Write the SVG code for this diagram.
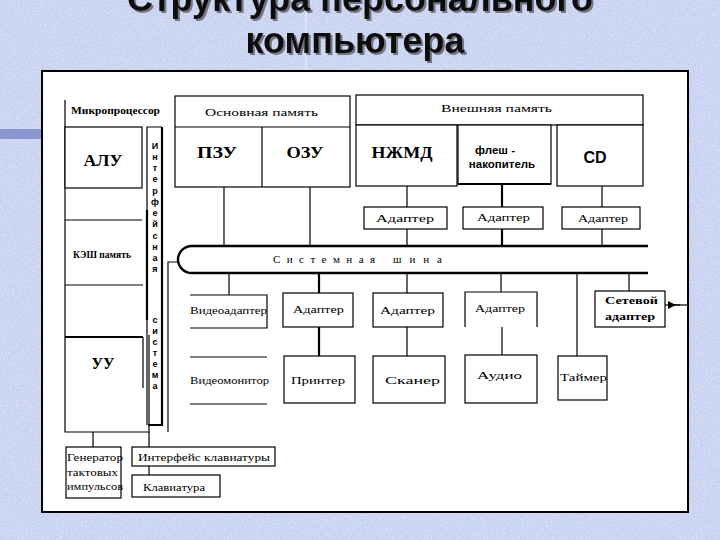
<svg xmlns="http://www.w3.org/2000/svg" width="720" height="540" viewBox="0 0 720 540">
<defs>
<filter id="tex" x="0" y="0" width="100%" height="100%">
<feTurbulence type="fractalNoise" baseFrequency="0.55" numOctaves="2" seed="7"/>
<feColorMatrix type="matrix" values="0 0 0 0 0.93  0 0 0 0 0.78  0 0 0 0 0.95  1.4 0 0 0 -0.55"/>
</filter>
<filter id="shadow" x="-5%" y="-50%" width="110%" height="200%">
<feDropShadow dx="2" dy="2" stdDeviation="0.6" flood-color="#6a6a7a" flood-opacity="0.9"/>
</filter>
<marker id="arr" viewBox="0 0 8 8" refX="4" refY="4" markerWidth="8" markerHeight="8" orient="auto" markerUnits="userSpaceOnUse">
<path d="M0,4 L8,0 L8,8 Z" fill="#000"/>
</marker>
<style>
.ln{fill:none;stroke:#000;stroke-width:1.2}
.bx{fill:#fff;stroke:#000;stroke-width:1.2}
.tk{fill:none;stroke:#000;stroke-width:2.2}
.lb{font-family:"Liberation Serif",serif;font-size:11px;fill:#000}
.bd{font-family:"Liberation Serif",serif;font-size:17px;font-weight:bold;fill:#000;text-anchor:middle}
.bs{font-family:"Liberation Sans",sans-serif;font-weight:bold;fill:#000;text-anchor:middle}
.vl{font-family:"Liberation Sans",sans-serif;font-size:9px;font-weight:bold;fill:#000;text-anchor:middle}
.tt{font-family:"Liberation Sans","DejaVu Sans",sans-serif;font-size:36px;font-weight:bold;fill:#111;text-anchor:middle}
</style>
</defs>

<!-- background -->
<rect x="0" y="0" width="720" height="540" fill="#c4d3f0"/>
<rect x="0" y="0" width="720" height="540" filter="url(#tex)"/>
<rect x="0" y="129" width="42" height="10" fill="#8b98cf"/>
<line x1="306" y1="0" x2="306" y2="71" stroke="#eef2ff" stroke-width="1"/>

<!-- title -->
<g id="title" filter="url(#shadow)">
<text class="tt" x="360" y="11">Структура персонального</text>
<text class="tt" x="355" y="53">компьютера</text>
</g>

<!-- frame -->
<rect x="42" y="71" width="646" height="441" fill="#fff" stroke="#000" stroke-width="2"/>

<g id="connectors">
<path class="ln" d="M224,187 V246 M310,187 V246"/>
<path class="ln" d="M407,186 V207 M407,229 V246 M602,186 V207 M602,229 V246"/>
<path class="tk" d="M502,184 V207 M502,229 V246"/>
<path class="ln" d="M229,273 V295"/>
<path class="tk" d="M319,273 V293 M319,327 V356"/>
<path class="ln" d="M407,273 V293 M407,327 V356"/>
<path class="ln" d="M501,273 V292 M502,327 V355"/>
<path class="ln" d="M577,273 V356"/>
<path class="ln" d="M629,273 V291"/>
<path class="ln" d="M168,432 V262 H178"/>
<path class="ln" d="M93,432 V447 M149,432 V447 M149,466 V475"/>
<path class="ln" d="M665,305 H688"/>
<path class="ln" d="M680,305 H672" marker-end="url(#arr)"/>
</g>

<g id="microprocessor">
<path class="ln" d="M65,100 V432 H149 V335"/>
<text class="lb" x="71" y="114" textLength="89" lengthAdjust="spacingAndGlyphs" font-weight="bold">Микропроцессор</text>
</g>
<g id="alu">
<rect class="bx" x="65" y="127" width="77" height="61"/>
<text class="bd" x="103" y="166" textLength="39" lengthAdjust="spacingAndGlyphs">АЛУ</text>
</g>
<g id="cache">
<path class="ln" d="M65,220 H142 M65,285 H143"/>
<text class="lb" x="73" y="258" textLength="58" lengthAdjust="spacingAndGlyphs" font-weight="bold">КЭШ память</text>
</g>
<g id="uu">
<path class="tk" d="M65,337 H143"/>
<path class="ln" d="M143,337 V388"/>
<text class="bd" x="103" y="369" textLength="23" lengthAdjust="spacingAndGlyphs">УУ</text>
</g>

<g id="interface">
<path class="ln" d="M147,425 V127 H162"/>
<path class="tk" d="M162,127 V425 H148"/>
<path class="tk" d="M147,210 V320"/>
<text class="vl">
<tspan x="155" y="149">И</tspan><tspan x="155" y="160">н</tspan><tspan x="155" y="171">т</tspan><tspan x="155" y="182">е</tspan><tspan x="155" y="194">р</tspan><tspan x="155" y="205">ф</tspan><tspan x="155" y="216">е</tspan><tspan x="155" y="227">й</tspan><tspan x="155" y="239">с</tspan><tspan x="155" y="250">н</tspan><tspan x="155" y="261">а</tspan><tspan x="155" y="272">я</tspan><tspan x="155" y="323">с</tspan><tspan x="155" y="334">и</tspan><tspan x="155" y="345">с</tspan><tspan x="155" y="356">т</tspan><tspan x="155" y="367">е</tspan><tspan x="155" y="378">м</tspan><tspan x="155" y="389">а</tspan>
</text>
</g>

<g id="main-memory">
<rect class="bx" x="175" y="96" width="175" height="91"/>
<path class="ln" d="M175,127 H350 M262,127 V187"/>
<text class="lb" x="205" y="116" textLength="113" lengthAdjust="spacingAndGlyphs">Основная память</text>
</g>
<g id="rom"><text class="bd" x="217" y="158" textLength="40" lengthAdjust="spacingAndGlyphs">ПЗУ</text></g>
<g id="ram"><text class="bd" x="305" y="158" textLength="37" lengthAdjust="spacingAndGlyphs">ОЗУ</text></g>

<g id="external-memory">
<rect class="bx" x="356" y="95" width="287" height="30"/>
<text class="lb" x="441" y="112" textLength="111" lengthAdjust="spacingAndGlyphs">Внешняя память</text>
</g>
<g id="hdd">
<rect class="bx" x="356" y="125" width="101" height="61"/>
<text class="bd" x="402" y="158" textLength="61" lengthAdjust="spacingAndGlyphs">НЖМД</text>
</g>
<g id="flash">
<rect class="bx" x="458" y="125" width="93" height="59"/>
<path class="tk" d="M458,184 H551"/>
<text class="bs" font-size="11.5" x="495" y="154">флеш -</text>
<text class="bs" font-size="11.5" x="502" y="168">накопитель</text>
</g>
<g id="cd">
<rect class="bx" x="557" y="125" width="86" height="61"/>
<text class="bs" font-size="16" x="595" y="163">CD</text>
</g>

<g id="adapter-hdd">
<rect class="bx" x="364" y="207" width="83" height="22"/>
<text class="lb" x="376" y="222" textLength="58" lengthAdjust="spacingAndGlyphs">Адаптер</text>
</g>
<g id="adapter-flash">
<rect class="bx" x="463" y="207" width="80" height="22" stroke-width="2"/>
<text class="lb" x="477" y="221" textLength="53" lengthAdjust="spacingAndGlyphs">Адаптер</text>
</g>
<g id="adapter-cd">
<rect class="bx" x="562" y="207" width="78" height="22"/>
<text class="lb" x="578" y="222" textLength="50" lengthAdjust="spacingAndGlyphs">Адаптер</text>
</g>

<g id="system-bus">
<path d="M648,246 H192 A14,13.5 0 0 0 192,273 H648" fill="#fff" stroke="#000" stroke-width="2.4"/>
<text class="lb" x="273" y="263" textLength="102" lengthAdjust="spacing">С и с т е м н а я</text>
<text class="lb" x="393" y="263" textLength="49" lengthAdjust="spacing">ш и н а</text>
</g>

<g id="video-adapter">
<path class="ln" d="M190,295 H267 V328 H190"/>
<text class="lb" x="190" y="314" textLength="77" lengthAdjust="spacingAndGlyphs">Видеоадаптер</text>
</g>
<g id="video-monitor">
<path class="ln" d="M190,357 H267 M190,404 H267"/>
<text class="lb" x="190" y="384" textLength="79" lengthAdjust="spacingAndGlyphs">Видеомонитор</text>
</g>

<g id="adapter-printer">
<rect class="bx" x="283" y="293" width="70" height="34" stroke-width="1.6"/>
<text class="lb" x="293" y="313" textLength="51" lengthAdjust="spacingAndGlyphs">Адаптер</text>
</g>
<g id="printer">
<rect class="bx" x="284" y="356" width="71" height="47" stroke-width="1.6"/>
<text class="lb" x="291" y="384" textLength="54" lengthAdjust="spacingAndGlyphs">Принтер</text>
</g>

<g id="adapter-scanner">
<rect class="bx" x="373" y="293" width="70" height="34" stroke-width="1.6"/>
<text class="lb" x="380" y="314" textLength="55" lengthAdjust="spacingAndGlyphs">Адаптер</text>
</g>
<g id="scanner">
<rect class="bx" x="373" y="356" width="72" height="47"/>
<text class="lb" x="385" y="384" textLength="55" lengthAdjust="spacingAndGlyphs">Сканер</text>
</g>

<g id="adapter-audio">
<path class="ln" d="M465,327 V292 H537 V327"/>
<text class="lb" x="475" y="312" textLength="50" lengthAdjust="spacingAndGlyphs">Адаптер</text>
</g>
<g id="audio">
<rect class="bx" x="465" y="355" width="72" height="48"/>
<text class="lb" x="477" y="379" textLength="45" lengthAdjust="spacingAndGlyphs">Аудио</text>
</g>

<g id="timer">
<rect class="bx" x="558" y="356" width="49" height="44"/>
<text class="lb" x="560" y="381" textLength="47" lengthAdjust="spacingAndGlyphs">Таймер</text>
</g>

<g id="network-adapter">
<rect class="bx" x="595" y="291" width="70" height="36" stroke-width="1.8"/>
<text class="lb" x="605" y="304" textLength="53" lengthAdjust="spacingAndGlyphs" font-weight="bold">Сетевой</text>
<text class="lb" x="605" y="320" textLength="50" lengthAdjust="spacingAndGlyphs" font-weight="bold">адаптер</text>
</g>

<g id="clock-generator">
<rect class="bx" x="66" y="447" width="55" height="51"/>
<text class="lb" x="67" y="461" textLength="56" lengthAdjust="spacingAndGlyphs">Генератор</text>
<text class="lb" x="67" y="476" textLength="51" lengthAdjust="spacingAndGlyphs">тактовых</text>
<text class="lb" x="67" y="490" textLength="56" lengthAdjust="spacingAndGlyphs">импульсов</text>
</g>

<g id="keyboard-interface">
<rect class="bx" x="132" y="447" width="143" height="19"/>
<text class="lb" x="138" y="461" textLength="132" lengthAdjust="spacingAndGlyphs">Интерфейс клавиатуры</text>
</g>
<g id="keyboard">
<rect class="bx" x="132" y="475" width="88" height="22"/>
<text class="lb" x="143" y="491" textLength="62" lengthAdjust="spacingAndGlyphs">Клавиатура</text>
</g>
</svg>
